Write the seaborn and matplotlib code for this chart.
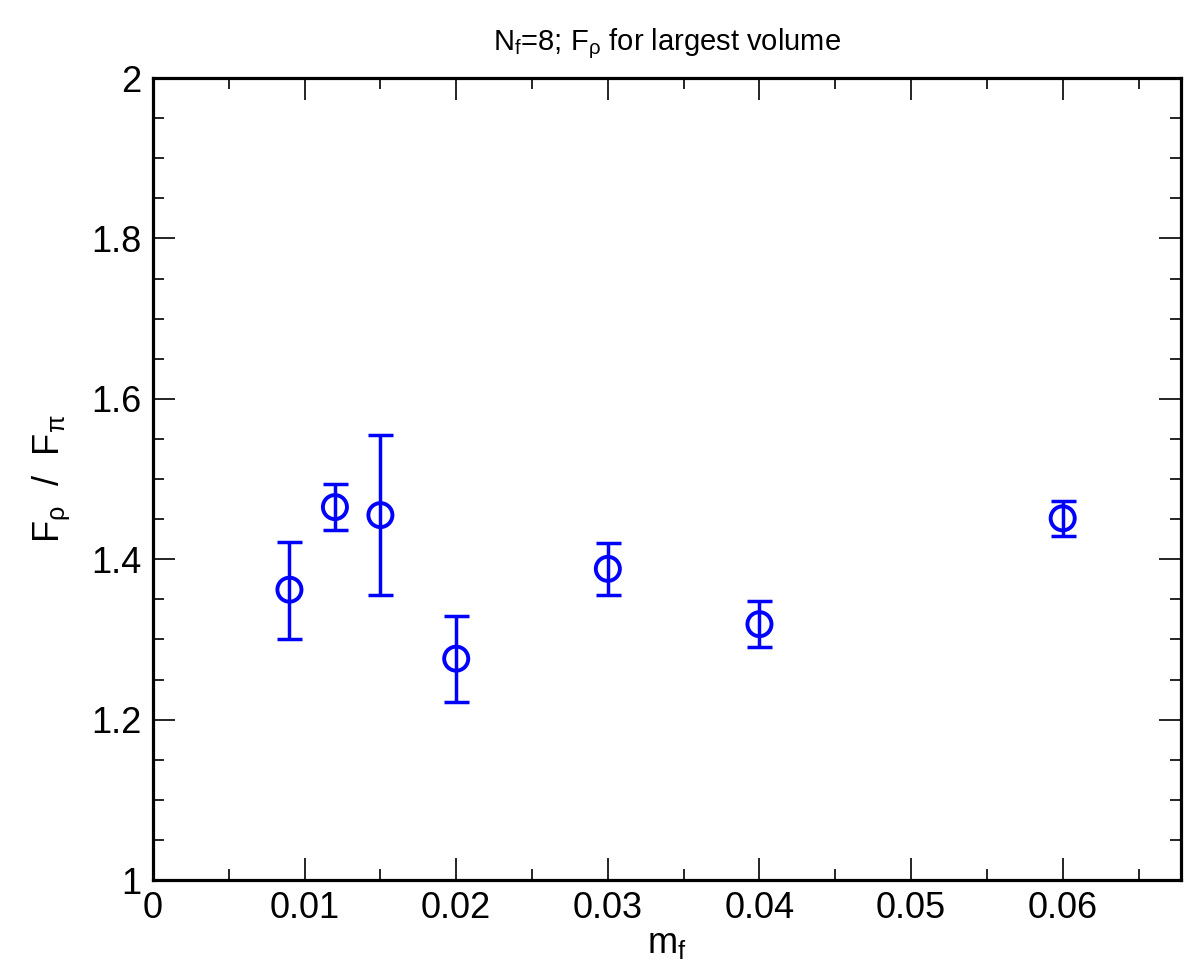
import matplotlib
matplotlib.use("Agg")
import matplotlib.pyplot as plt
import seaborn as sns
import pandas as pd
from matplotlib.ticker import MultipleLocator

m_f = [0.009, 0.012, 0.015, 0.020, 0.030, 0.040, 0.060]
ratio = [1.362, 1.465, 1.455, 1.276, 1.388, 1.319, 1.451]
err_hi = [1.422, 1.494, 1.555, 1.329, 1.420, 1.348, 1.473]
err_lo = [1.301, 1.437, 1.356, 1.222, 1.356, 1.290, 1.429]

df = pd.DataFrame({"m_f": m_f, "ratio": ratio})

sns.set_theme(style="ticks")
plt.rcParams["font.family"] = ["Liberation Sans", "DejaVu Sans"]
plt.rcParams["mathtext.fontset"] = "custom"
plt.rcParams["mathtext.rm"] = "Liberation Sans"
plt.rcParams["mathtext.it"] = "Liberation Sans"
plt.rcParams["mathtext.bf"] = "Liberation Sans"
plt.rcParams["text.color"] = "black"
plt.rcParams["axes.labelcolor"] = "black"

fig = plt.figure(figsize=(11.97, 9.68), dpi=100)
ax = fig.add_axes([0.1278, 0.0909, 0.8588, 0.8285])

yerr = [[r - lo for r, lo in zip(ratio, err_lo)], [hi - r for r, hi in zip(ratio, err_hi)]]
ax.errorbar(m_f, ratio, yerr=yerr, fmt="none", ecolor="#0000ff", elinewidth=2.5,
            capsize=9, capthick=2.5, zorder=2)
sns.scatterplot(data=df, x="m_f", y="ratio", ax=ax, marker="o", s=300,
                facecolor="none", edgecolor="#0000ff", linewidth=2.8, zorder=3)

ax.set_xlim(0, 0.0678)
ax.set_ylim(1, 2)
ax.xaxis.set_major_locator(MultipleLocator(0.01))
ax.xaxis.set_minor_locator(MultipleLocator(0.005))
ax.yaxis.set_major_locator(MultipleLocator(0.2))
ax.yaxis.set_minor_locator(MultipleLocator(0.05))
ax.set_xticks([0, 0.01, 0.02, 0.03, 0.04, 0.05, 0.06])
ax.set_xticklabels(["0", "0.01", "0.02", "0.03", "0.04", "0.05", "0.06"])
ax.set_yticks([1, 1.2, 1.4, 1.6, 1.8, 2])
ax.set_yticklabels(["1", "1.2", "1.4", "1.6", "1.8", "2"])

ax.tick_params(which="both", direction="in", top=True, right=True,
               width=1.2, colors="black", labelsize=26)
ax.tick_params(which="major", length=16, pad=8)
ax.tick_params(which="minor", length=8)
for s in ax.spines.values():
    s.set_linewidth(2.3)
    s.set_color("black")
    s.set_visible(True)

ax.set_xlabel(r"m$_\mathregular{f}$", fontsize=26, labelpad=0, color="black")
ax.set_ylabel(r"F$_\mathregular{\rho}$  /  F$_\mathregular{\pi}$", fontsize=26,
              labelpad=14, color="black")
ax.set_title(r"N$_\mathregular{f}$=8; F$_\mathregular{\rho}$ for largest volume",
             fontsize=21, pad=20, color="black")

fig.savefig("out.png", dpi=100)
